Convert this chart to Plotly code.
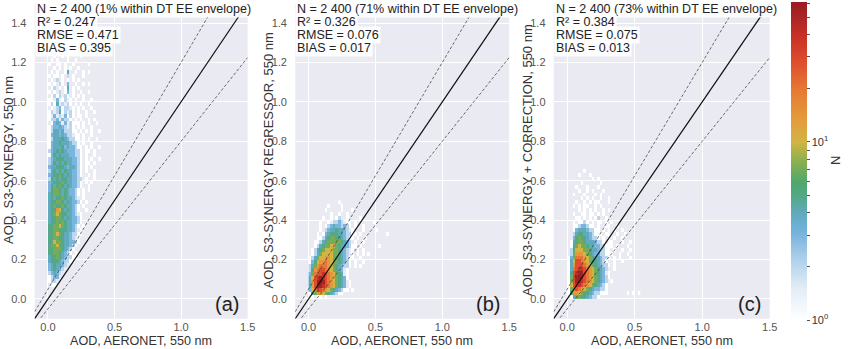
import numpy as np
import plotly.graph_objects as go

# ---------------------------------------------------------------------------
# 2-D histogram counts (bin width 0.02 in both directions).
# Each string is one row of bins, listed from the highest AOD row downwards;
# characters encode the count in the bin through LEVEL_COUNTS.
# ---------------------------------------------------------------------------
BIN = 0.02
LEVEL_COUNTS = {".": 0, "1": 1, "2": 2, "3": 3, "4": 4, "5": 5, "6": 7, "7": 10,
                "8": 14, "9": 20, "A": 28, "B": 40, "C": 55, "D": 61}

a_top = 1.34
a_rows = [
    "..1....................",
    "....1..1...............",
    ".1......1..............",
    "...1.1....1............",
    "1...1...1..............",
    "..1..1.1....1..........",
    ".1.1...1..1............",
    "1..11.1..1.....1.......",
    "..1.1.1.1..1...........",
    ".1.1..14..1..1.1.......",
    "1.11.1.2.1...1.........",
    ".1.2.1.1.1.1...........",
    "1.1.21.3..1..1.1.......",
    ".12.1.14.1.1...........",
    "1.1.2.13.1..1..1.......",
    ".1212.21.1.1.1.........",
    "11.3.12.1.1..1..1......",
    "1214.2.21.1.1..1.......",
    ".1.23122.1.1.1..1......",
    "12.2412.21.1..1..1.....",
    "1.3.2.3121.11.1........",
    "1223.3221.1.1..1.1.....",
    ".1343.3.2111.1.1..1....",
    "1233432.21.1.1..1......",
    "12443422211.1.1.1..1...",
    "134434322.11.1..1......",
    "124445432211.1.1..1....",
    "134454443221.1..1......",
    "1344453433211.1.1..1...",
    "2345454333221.11.1.....",
    "1354544433221.1..1.....",
    "2345554443321.1.1..1...",
    "2354545443321.11.1.....",
    "3445554344321.1.1......",
    "2454545443321.1..1.....",
    "3455654543321..1.1.....",
    "2545455443322.1..1.....",
    "3455565443321.1.1......",
    "3545654543321..1.......",
    "356654543321.1.1.......",
    "456654543321.1.........",
    "45455654432..1.........",
    "4556654543321.1........",
    "456556544321.1.........",
    "455875454321..1........",
    "45676554432.1..........",
    "4556654543321..........",
    "4556565443321..........",
    "556676544321.1.........",
    "55665554432.1..........",
    "5567654432211..........",
    "5566554432.1...........",
    "557665443321...........",
    "56675544321............",
    "5566654321.............",
    "556654321.1............",
    "45565432211............",
    "4555432211.............",
    "3454432................",
    "345432.................",
    "23432..................",
    "1233...................",
    "122....................",
    ".11....................",
]

b_top = 0.50
b_rows = [
    "...........1......................",
    ".......1....1.....................",
    "......1.....1...1.................",
    "........1..1..1...................",
    ".....1..1.12..1....1..............",
    "....1..1.2232.11.1......1.........",
    "....1.1234332321.1..1.............",
    "....1.234454432.1...1....1........",
    "...1.1345554432211.1.........1....",
    "...11245665543211.1..1............",
    "..11245666665432.1..1.............",
    "..1245667765443211.1......1.......",
    ".12456777665432.1.1.1.............",
    ".12467777665432.1.1.1.1...........",
    "12467788765543211..1..............",
    "1357889876654321.1..1.............",
    "2468999876543221.1.1..............",
    "2589AA9876543.1...................",
    "369AABA987654.1...................",
    "47ABCBA98765431...................",
    "48ACDCA9876543.1..................",
    "48ACCBA9876543.1..................",
    "379BA9876543211.1.................",
    "1468876543211.....................",
    ".1.11.1...........................",
]

c_top = 0.66
c_rows = [
    "......1...................",
    "....1...1.................",
    ".........1.1..............",
    ".....1......1.............",
    "...1...1...1..............",
    "....1..1.1...1............",
    "..1...1...1.1.............",
    ".....1.1.1..1..1..........",
    "...1..1.1.11...1..........",
    "..1.1.11..1.1.............",
    "....1.1.1.1..1.1..........",
    "..1..11.11.1.1............",
    "...11.1.1.12..1...........",
    "..1.1121.1.11.1.1.........",
    "..11233211.1..11..1.......",
    "..1344432211.1.1.1..1.....",
    "..24554432111.11..1..1....",
    "..3565543221.1.1.1..1.....",
    ".1456654443221.11...1..1..",
    ".1567665443322111.1...1...",
    ".257776654432211.1..1..1..",
    ".2688876543322111..1..1...",
    "1369998765443221.1.1...1..",
    "147AA9876554321..1..1.....",
    "148AAA9876543221.1........",
    "149ABBA98765432..1........",
    "15ABCCA9876543.1..........",
    "16ACDCA987654321..........",
    "16ACCBA98765432.1.........",
    "17ABBA987654321...........",
    "169A98765433221...........",
    "158876554322111.......1.1.1",
    ".14665543221..............",
]

stats_a = ["N = 2 400 (1% within DT EE envelope)", "R² = 0.247", "RMSE = 0.471", "BIAS = 0.395"]
stats_b = ["N = 2 400 (71% within DT EE envelope)", "R² = 0.326", "RMSE = 0.076", "BIAS = 0.017"]
stats_c = ["N = 2 400 (73% within DT EE envelope)", "R² = 0.384", "RMSE = 0.075", "BIAS = 0.013"]

panel_tags = ["(a)", "(b)", "(c)"]
y_titles = ["AOD, S3-SYNERGY, 550 nm",
            "AOD, S3-SYNERGY REGRESSOR, 550 nm",
            "AOD, S3-SYNERGY + CORRECTION, 550 nm"]
x_title = "AOD, AERONET, 550 nm"
x_ticks = [0.0, 0.5, 1.0, 1.5]
y_ticks = [0.0, 0.2, 0.4, 0.6, 0.8, 1.0, 1.2, 1.4]
axis_range = [-0.1, 1.5]
count_max = 61

# DT expected-error envelope: +/-(0.05 + 0.15 * AOD)
EE_ABS, EE_REL = 0.05, 0.15

# ---------------------------------------------------------------------------
W, H = 850, 349
FONT = "Liberation Sans, Arial, sans-serif"


def fx(p):
    return p / W


def fy(p):
    return 1 - p / H


def decode(rows, top):
    ncol = max(len(r) for r in rows)
    z = np.full((len(rows), ncol), np.nan)
    for k, row in enumerate(rows):
        for i, ch in enumerate(row):
            n = LEVEL_COUNTS[ch]
            if n > 0:
                z[k, i] = np.log10(n)
    yc = top - BIN * (np.arange(len(rows)) + 0.5)
    xc = BIN * (np.arange(ncol) + 0.5)
    return xc, yc[::-1], z[::-1]


colorscale = [
    [0.00, "#ffffff"],
    [0.10, "#e2edf6"],
    [0.20, "#a9cde9"],
    [0.27, "#78b4dd"],
    [0.33, "#62aac4"],
    [0.38, "#56a98e"],
    [0.43, "#4ea66e"],
    [0.50, "#8cb050"],
    [0.56, "#d2b444"],
    [0.63, "#e49c3c"],
    [0.72, "#e67a35"],
    [0.80, "#e0522e"],
    [0.88, "#cc3428"],
    [1.00, "#981c22"],
]

x_px = [(35, 250), (298, 514), (559, 777)]
y_px = (3.3, 318.7)
ydom = [fy(y_px[1]), fy(y_px[0])]

fig = go.Figure()
panels = [(a_rows, a_top, stats_a), (b_rows, b_top, stats_b), (c_rows, c_top, stats_c)]

line_x = np.array(axis_range)
annotations = []
for p, (rows, top, stats) in enumerate(panels):
    sfx = "" if p == 0 else str(p + 1)
    xa, ya = "x" + sfx, "y" + sfx
    xc, yc, z = decode(rows, top)
    fig.add_trace(go.Heatmap(x=xc, y=yc, z=z, coloraxis="coloraxis",
                             xaxis=xa, yaxis=ya, hoverinfo="skip"))
    # 1:1 line and the EE envelope
    fig.add_trace(go.Scatter(x=line_x, y=line_x, mode="lines", xaxis=xa, yaxis=ya,
                             line=dict(color="#111111", width=1.2), showlegend=False,
                             hoverinfo="skip"))
    for sign in (1, -1):
        fig.add_trace(go.Scatter(x=line_x, y=line_x + sign * (EE_ABS + EE_REL * line_x),
                                 mode="lines", xaxis=xa, yaxis=ya,
                                 line=dict(color="#333333", width=0.7, dash="3px,2px"),
                                 showlegend=False, hoverinfo="skip"))
    dom = [fx(x_px[p][0]), fx(x_px[p][1])]
    axis_common = dict(range=axis_range, showgrid=True, gridcolor="white", gridwidth=1,
                       zeroline=False, showline=False, tickformat=".1f",
                       tickfont=dict(family=FONT, size=11, color="#555555"))
    fig.update_layout(**{
        "xaxis" + sfx: dict(domain=dom, anchor=ya, tickvals=x_ticks, ticks="", **axis_common),
        "yaxis" + sfx: dict(domain=ydom, anchor=xa, tickvals=y_ticks, ticks="outside",
                            ticklen=5, tickcolor="rgba(0,0,0,0)", **axis_common),
    })

    # statistics block, one boxed line each
    for k, line in enumerate(stats):
        annotations.append(dict(
            text=line, xref="paper", yref="paper", x=dom[0], y=fy(13 * k),
            xanchor="left", yanchor="top", showarrow=False,
            font=dict(family=FONT, size=12.5, color="#222222"),
            bgcolor="rgba(255,255,255,0.9)", borderpad=1))
    # panel tag
    annotations.append(dict(
        text=panel_tags[p], xref="paper", yref="paper", x=fx(x_px[p][1] - 7), y=fy(304),
        xanchor="right", yanchor="middle", showarrow=False,
        font=dict(family=FONT, size=20, color="#222222")))
    # axis titles
    annotations.append(dict(
        text=x_title, xref="paper", yref="paper", x=(dom[0] + dom[1]) / 2, y=fy(340.5),
        xanchor="center", yanchor="middle", showarrow=False,
        font=dict(family=FONT, size=12.6, color="#333333")))
    annotations.append(dict(
        text=y_titles[p], xref="paper", yref="paper", x=fx(x_px[p][0] - 27), y=fy(160),
        xanchor="center", yanchor="middle", showarrow=False, textangle=-90,
        font=dict(family=FONT, size=13, color="#333333")))

annotations.append(dict(
    text="N", xref="paper", yref="paper", x=fx(843), y=fy(161),
    xanchor="center", yanchor="middle", showarrow=False, textangle=-90,
    font=dict(family=FONT, size=13, color="#333333")))

cb_counts = [1, 2, 3, 4, 5, 6, 7, 8, 9, 10, 20, 30, 40, 50, 60]
cb_text = ["10<sup>0</sup>" if c == 1 else ("10<sup>1</sup>" if c == 10 else "") for c in cb_counts]

fig.update_layout(
    width=W, height=H,
    margin=dict(l=0, r=0, t=0, b=0),
    paper_bgcolor="white",
    plot_bgcolor="#EAEAF2",
    showlegend=False,
    annotations=annotations,
    coloraxis=dict(
        cmin=0, cmax=np.log10(count_max), colorscale=colorscale,
        colorbar=dict(
            x=fx(799), xanchor="left", thickness=16, xpad=0, ypad=0,
            y=fy(320), yanchor="bottom", len=(320 - 2) / H, lenmode="fraction",
            outlinewidth=0, tickmode="array",
            tickvals=[float(np.log10(c)) for c in cb_counts], ticktext=cb_text,
            ticks="outside", ticklen=3, tickcolor="#555555",
            tickfont=dict(family=FONT, size=11, color="#333333"),
        ),
    ),
)

fig.write_html("out.html")
